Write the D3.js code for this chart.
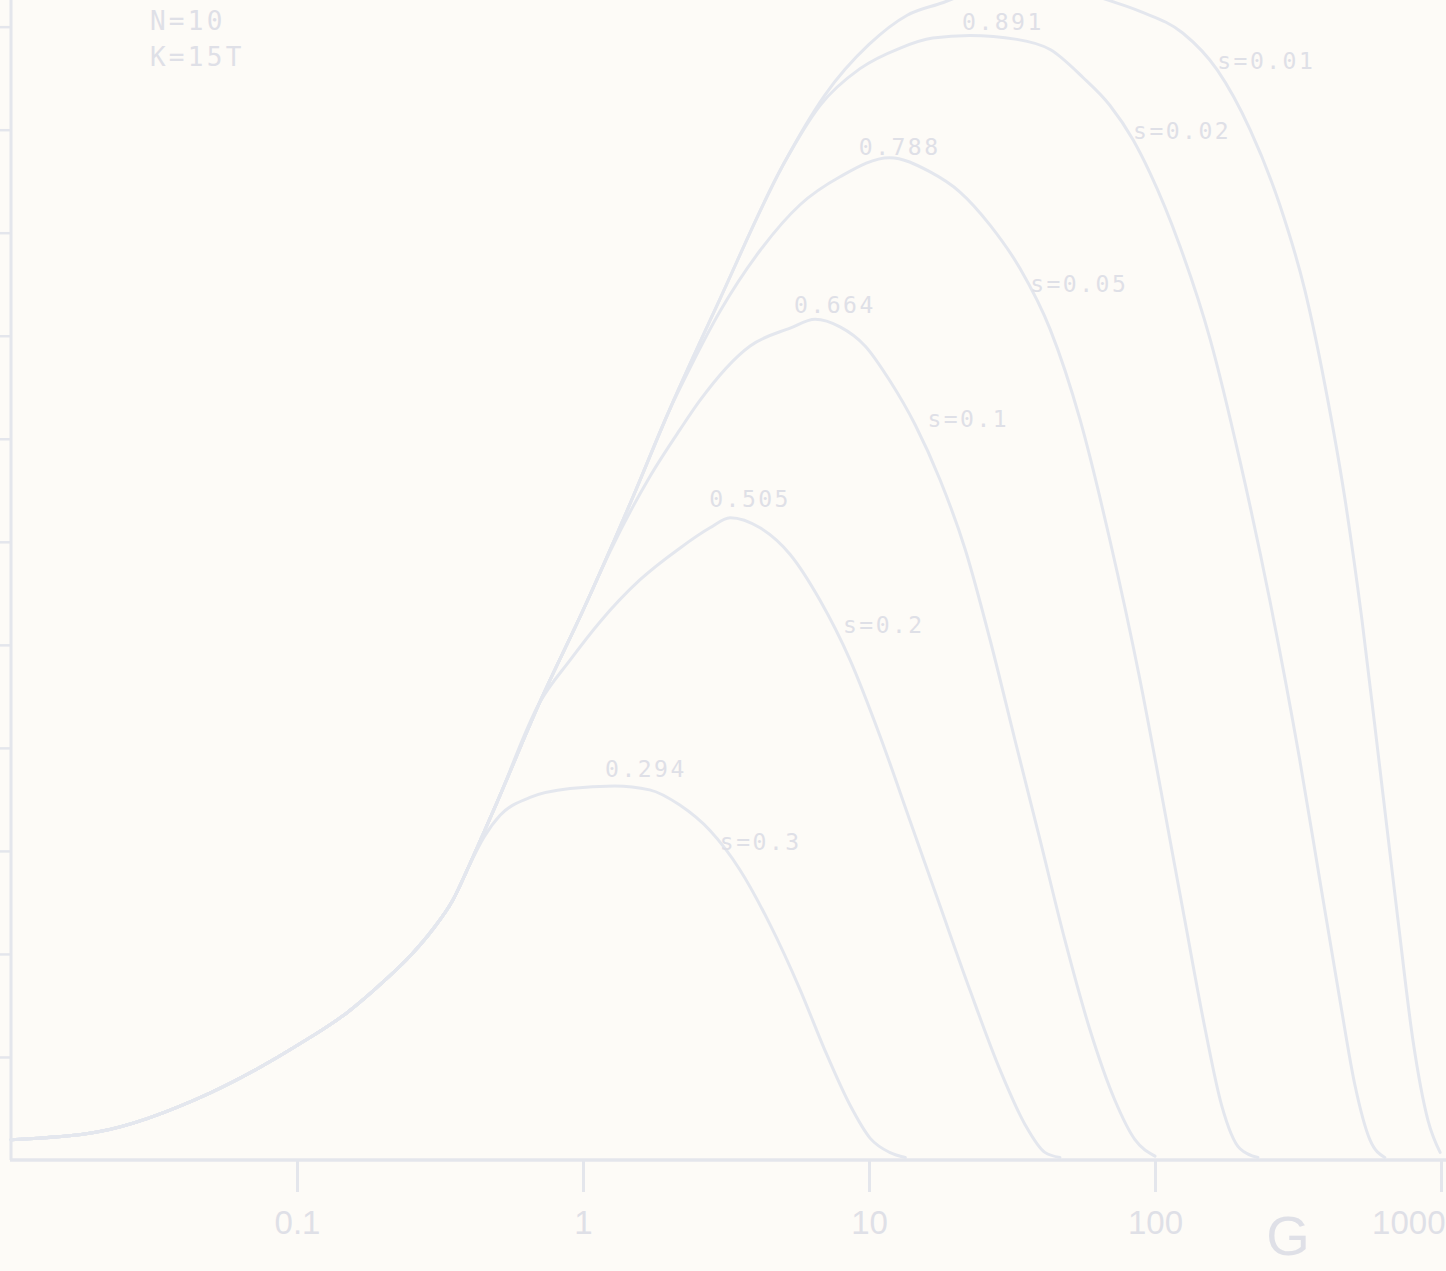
<!DOCTYPE html>
<html><head><meta charset="utf-8">
<script src="https://cdn.jsdelivr.net/npm/d3@7"></script>
<style>html,body{margin:0;padding:0;background:#fdfbf7;overflow:hidden}</style>
</head><body><svg id="c" width="1446" height="1271"></svg>
<script>
// ---- data (G, value) ----
const rise = [[0.01,0.016],[0.02,0.022],[0.05,0.053],[0.1,0.090],[0.15,0.116],[0.2,0.140],[0.25,0.161],[0.3,0.182],[0.35,0.204],[0.399,0.231]];
const curveS03 = rise.concat([[0.451,0.254],[0.513,0.271],[0.653,0.285],[0.901,0.292],[1.29,0.294],[1.71,0.291],[2.18,0.279],[2.78,0.259],[3.54,0.228],[4.51,0.185],[5.74,0.134],[7.02,0.086],[8.59,0.043],[10.1,0.017],[11.8,0.006],[13.4,0.002]]);
const curveS02 = rise.concat([[0.451,0.258],[0.5,0.281],[0.707,0.360],[0.901,0.393],[1.146,0.423],[1.58,0.456],[2.18,0.481],[2.78,0.497],[3.27,0.505],[4.16,0.497],[5.30,0.476],[6.74,0.440],[8.59,0.393],[10.9,0.334],[13.9,0.267],[17.7,0.200],[22.5,0.134],[28.7,0.071],[35.1,0.028],[41.2,0.006],[46.5,0.002]]);
const curveS01 = rise.concat([[0.451,0.258],[0.5,0.281],[0.7,0.358],[1,0.432],[1.24,0.478],[1.71,0.537],[2.18,0.574],[2.56,0.597],[3.84,0.640],[5.30,0.654],[6.48,0.661],[7.92,0.655],[9.69,0.640],[11.8,0.613],[14.5,0.578],[17.7,0.535],[21.7,0.480],[26.5,0.409],[32.4,0.330],[39.6,0.252],[48.4,0.173],[59.3,0.102],[72.4,0.047],[85.1,0.016],[100,0.003]]);
const curveS005 = rise.concat([[0.451,0.258],[0.5,0.281],[0.7,0.358],[1,0.432],[1.5,0.522],[2,0.589],[2.37,0.623],[3.01,0.667],[4.16,0.715],[5.74,0.751],[7.92,0.773],[11.8,0.788],[16.3,0.777],[20.8,0.761],[26.5,0.735],[33.7,0.701],[43,0.653],[54.7,0.582],[69.6,0.487],[88.7,0.377],[108,0.275],[127,0.189],[150,0.102],[171,0.043],[198,0.009],[229,0.002]]);
const curveS002 = rise.concat([[0.451,0.258],[0.5,0.281],[0.7,0.358],[1,0.432],[1.5,0.522],[2,0.589],[3,0.676],[5,0.782],[6.74,0.829],[9.3,0.858],[12.8,0.874],[16.7,0.882],[22.5,0.884],[32.9,0.881],[43,0.873],[56,0.851],[69.6,0.829],[83.8,0.802],[96,0.776],[122,0.719],[156,0.645],[198,0.550],[252,0.440],[321,0.314],[377,0.220],[443,0.126],[500,0.059],[564,0.016],[636,0.002]]);
const curveS001 = rise.concat([[0.451,0.258],[0.5,0.281],[0.7,0.358],[1,0.432],[1.5,0.522],[2,0.589],[3,0.676],[5,0.782],[7,0.837],[10,0.877],[13.6,0.900],[18.2,0.910],[24.4,0.921],[33.7,0.929],[46.5,0.926],[64.3,0.914],[88.7,0.903],[125,0.886],[165,0.857],[215,0.810],[273,0.751],[334,0.684],[393,0.609],[462,0.519],[529,0.425],[612,0.307],[707,0.189],[798,0.094],[901,0.031],[993,0.006]]);

const curveNames = ["s=0.01","s=0.02","s=0.05","s=0.1","s=0.2","s=0.3"];
const curveLabelPos = [[165,0.858],[83.8,0.803],[36.6,0.682],[16.0,0.576],[8.11,0.414],[3.01,0.244]];
const peakLabels = ["0.891","0.788","0.664","0.505","0.294"];
const peakLabelPos = [[29.4,0.888],[12.8,0.790],[7.6,0.666],[3.84,0.513],[1.66,0.301]];
const infoLines = ["N=10","K=15T"];
const infoPos = [[0.0306,0.888],[0.0306,0.860]];
const xTickValues = [0.1,1,10,100,1000];
const xTickLabels = ["0.1","1","10","100","1000"];
const yTickValues = [0.081,0.162,0.243,0.324,0.405,0.486,0.567,0.648,0.729,0.810,0.891];
const xTitle = "G";
const xTitlePos = 292;

// ---- drawing ----
const lineCol = "#e4e7ee", textCol = "#dfe0e7", axisCol = "#e4e6ec";
const svg = d3.select("#c");
const x = d3.scaleLog().domain([0.01,1000]).range([11,1441]);
const y = d3.scaleLinear().domain([0,1]).range([1160,-112]);

// axes
const xa = svg.append("g").attr("transform","translate(0,1160)")
  .call(d3.axisBottom(x).tickValues(xTickValues).tickSize(32).tickPadding(19)
    .tickFormat((d,i)=>xTickLabels[i]));
xa.select(".domain").remove();
xa.selectAll(".tick line").attr("stroke",axisCol).attr("stroke-width",3);
xa.selectAll(".tick text").attr("fill",textCol).attr("font-family","Liberation Sans, Arial, sans-serif").attr("font-size",33);
xa.selectAll(".tick text").filter(d=>d===1000).attr("text-anchor","end").attr("dx",4);
svg.append("line").attr("x1",x(0.01)-1).attr("x2",1446).attr("y1",y(0)).attr("y2",y(0))
  .attr("stroke",axisCol).attr("stroke-width",3.5);

const ya = svg.append("g").attr("transform","translate(11,0)")
  .call(d3.axisLeft(y).tickValues(yTickValues).tickSize(11).tickFormat(""));
ya.select(".domain").remove();
ya.selectAll(".tick line").attr("stroke",axisCol).attr("stroke-width",2.5);
svg.append("line").attr("x1",11).attr("x2",11).attr("y1",0).attr("y2",y(0))
  .attr("stroke",axisCol).attr("stroke-width",3);

// curves
const line = d3.line().x(d=>x(d[0])).y(d=>y(d[1])).curve(d3.curveMonotoneX);
const curves = [curveS001,curveS002,curveS005,curveS01,curveS02,curveS03];
svg.append("g").selectAll("path").data(curves).join("path")
  .attr("d",line).attr("fill","none").attr("stroke",lineCol).attr("stroke-width",3)
  .attr("stroke-linejoin","round").attr("stroke-linecap","round");

// labels
const mono = "DejaVu Sans Mono, Liberation Mono, monospace";
svg.append("g").selectAll("text").data(curveNames).join("text")
  .attr("x",(d,i)=>x(curveLabelPos[i][0])).attr("y",(d,i)=>y(curveLabelPos[i][1]))
  .attr("fill",textCol).attr("font-family",mono).attr("font-size",23).attr("letter-spacing",2.5)
  .text(d=>d);
svg.append("g").selectAll("text").data(peakLabels).join("text")
  .attr("x",(d,i)=>x(peakLabelPos[i][0])).attr("y",(d,i)=>y(peakLabelPos[i][1]))
  .attr("text-anchor","middle")
  .attr("fill",textCol).attr("font-family",mono).attr("font-size",23).attr("letter-spacing",2.5)
  .text(d=>d);
svg.append("g").selectAll("text").data(infoLines).join("text")
  .attr("x",(d,i)=>x(infoPos[i][0])).attr("y",(d,i)=>y(infoPos[i][1]))
  .attr("fill",textCol).attr("font-family",mono).attr("font-size",26).attr("letter-spacing",3.3)
  .text(d=>d);
svg.append("text").attr("x",x(xTitlePos)).attr("y",1255).attr("text-anchor","middle")
  .attr("fill",textCol).attr("font-family","Liberation Sans, Arial, sans-serif").attr("font-size",56)
  .text(xTitle);
</script></body></html>
